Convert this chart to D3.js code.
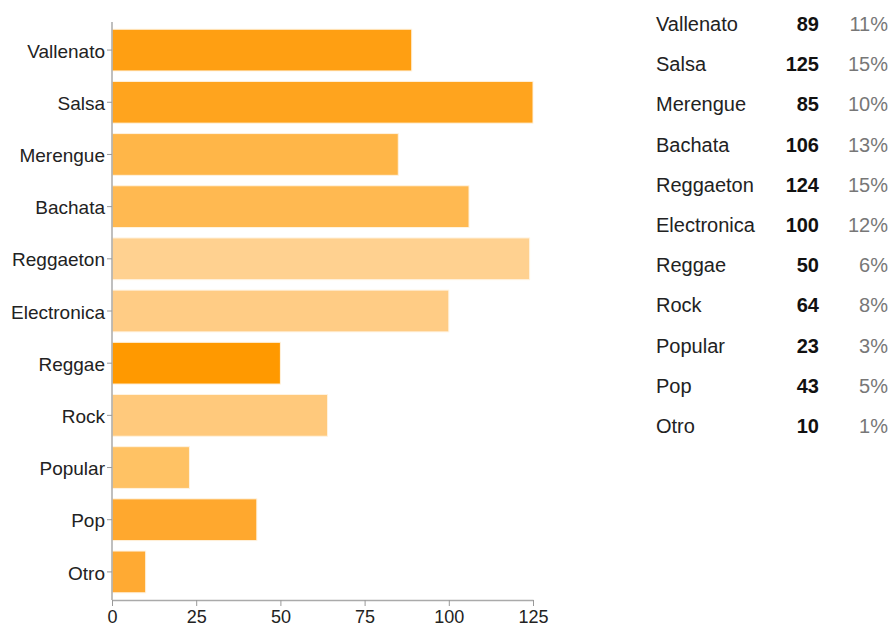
<!DOCTYPE html>
<html>
<head>
<meta charset="utf-8">
<script src="https://cdn.jsdelivr.net/npm/d3@7"></script>
<style>
  html, body { margin: 0; padding: 0; background: #fff; }
  svg { display: block; }
  text { font-family: "Liberation Sans", Arial, sans-serif; }
</style>
</head>
<body>
<svg id="chart" width="891" height="627"></svg>
<script>
const categories = ["Vallenato", "Salsa", "Merengue", "Bachata", "Reggaeton", "Electronica", "Reggae", "Rock", "Popular", "Pop", "Otro"];
const values = [89, 125, 85, 106, 124, 100, 50, 64, 23, 43, 10];
const percents = ["11%", "15%", "10%", "13%", "15%", "12%", "6%", "8%", "3%", "5%", "1%"];
const barColors = ["#FF9F12", "#FFA41E", "#FFB648", "#FFB951", "#FFD190", "#FFCC85", "#FF9900", "#FFC97C", "#FFC264", "#FFA82E", "#FFAA33"];
const xTicks = [0, 25, 50, 75, 100, 125];

const svg = d3.select("#chart");

const x = d3.scaleLinear().domain([0, 125]).range([112, 533]);
const y = d3.scaleBand().domain(categories).range([24, 598]).paddingInner(0.2).paddingOuter(0.1);

// bars
svg.append("g").selectAll("rect")
  .data(categories)
  .join("rect")
  .attr("x", x(0))
  .attr("y", d => y(d))
  .attr("width", (d, i) => x(values[i]) - x(0))
  .attr("height", y.bandwidth())
  .attr("fill", (d, i) => barColors[i])
  .attr("stroke", "#fff3e0")
  .attr("stroke-width", 1);

// y axis
const yAxis = svg.append("g")
  .attr("transform", `translate(${x(0)},0)`)
  .call(d3.axisLeft(y).tickSize(5).tickSizeOuter(0).tickPadding(2));
yAxis.select(".domain").attr("stroke", "#aaa").attr("stroke-width", 1.5).attr("d", "M0,22V600");
yAxis.selectAll(".tick line").attr("stroke", "#999");
yAxis.selectAll(".tick text").attr("font-size", 19).attr("fill", "#222").attr("dy", "0.4em")
  .attr("font-family", "'Liberation Sans', Arial, sans-serif");

// x axis
const xAxis = svg.append("g")
  .attr("transform", "translate(0,600)")
  .call(d3.axisBottom(x).tickValues(xTicks).tickSize(6).tickSizeOuter(0).tickPadding(4));
xAxis.select(".domain").attr("stroke", "#aaa").attr("stroke-width", 1.5);
xAxis.selectAll(".tick line").attr("stroke", "#999");
xAxis.selectAll(".tick text").attr("font-size", 18).attr("fill", "#222")
  .attr("font-family", "'Liberation Sans', Arial, sans-serif");

// right table
const rowY = d3.scalePoint().domain(categories).range([24, 426]);
const table = svg.append("g");
const rows = table.selectAll("g").data(categories).join("g")
  .attr("transform", d => `translate(0,${rowY(d)})`);
rows.append("text")
  .attr("x", 656).attr("dy", "0.35em")
  .attr("font-size", 20).attr("fill", "#222")
  .text(d => d);
rows.append("text")
  .attr("x", 819).attr("dy", "0.35em")
  .attr("text-anchor", "end")
  .attr("font-size", 20).attr("font-weight", "bold").attr("fill", "#111")
  .text((d, i) => values[i]);
rows.append("text")
  .attr("x", 888).attr("dy", "0.35em")
  .attr("text-anchor", "end")
  .attr("font-size", 20).attr("fill", "#777")
  .text((d, i) => percents[i]);
</script>
</body>
</html>
